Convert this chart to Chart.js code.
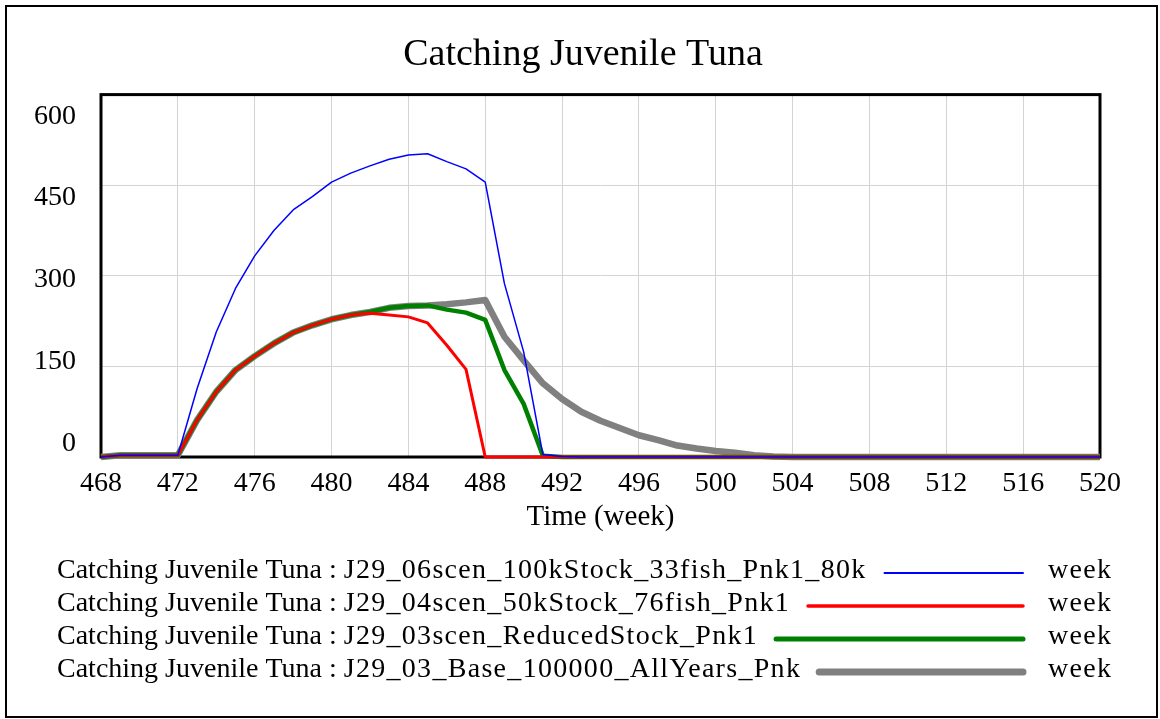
<!DOCTYPE html>
<html>
<head>
<meta charset="utf-8">
<title>Catching Juvenile Tuna</title>
<script src="https://cdn.jsdelivr.net/npm/chart.js@4.4.1/dist/chart.umd.min.js"></script>
<style>
    html, body { margin: 0; padding: 0; background: #ffffff; }
    #wrap { width: 1160px; height: 719px; }
</style>
</head>
<body>
<div id="wrap"><canvas id="tuna" width="1160" height="719"></canvas></div>
<script>
// weeks on the time axis
const weeks = [
    468, 469, 470, 471, 472, 473, 474, 475, 476, 477, 478, 479, 480, 481, 482, 483, 484, 485,
    486, 487, 488, 489, 490, 491, 492, 493, 494, 495, 496, 497, 498, 499, 500, 501, 502, 503,
    504, 505, 506, 507, 508, 509, 510, 511, 512, 513, 514, 515, 516, 517, 518, 519, 520
];

const seriesNames = [
    'Catching Juvenile Tuna : J29_06scen_100kStock_33fish_Pnk1_80k',
    'Catching Juvenile Tuna : J29_04scen_50kStock_76fish_Pnk1',
    'Catching Juvenile Tuna : J29_03scen_ReducedStock_Pnk1',
    'Catching Juvenile Tuna : J29_03_Base_100000_AllYears_Pnk'
];

const unitLabel = 'week';

// values, one per week
const scen100k = [
    0, 3, 3, 3, 3, 113, 207, 279, 333, 375, 409, 431, 455, 470, 482, 493, 500, 502,
    489, 477, 455, 287, 174, 4, 1, 0, 0, 0, 0, 0, 0, 0, 0, 0, 0, 0,
    0, 0, 0, 0, 0, 0, 0, 0, 0, 0, 0, 0, 0, 0, 0, 0, 0
];

const scen50k = [
    0, 3, 3, 3, 3, 61, 108, 144, 167, 188, 206, 218, 228, 235, 238, 235, 232, 222,
    185, 145, 0, 0, 0, 0, 0, 0, 0, 0, 0, 0, 0, 0, 0, 0, 0, 0,
    0, 0, 0, 0, 0, 0, 0, 0, 0, 0, 0, 0, 0, 0, 0, 0, 0
];

const scenReduced = [
    0, 3, 3, 3, 3, 61, 108, 144, 167, 188, 206, 218, 228, 235, 240, 247, 250, 251,
    244, 239, 227, 144, 88, 2, 0, 0, 0, 0, 0, 0, 0, 0, 0, 0, 0, 0,
    0, 0, 0, 0, 0, 0, 0, 0, 0, 0, 0, 0, 0, 0, 0, 0, 0
];

const baseAllYears = [
    0, 3, 3, 3, 3, 61, 108, 144, 167, 188, 206, 218, 228, 235, 240, 247, 250, 251,
    253, 256, 260, 199, 160, 122, 96, 75, 60, 48, 36, 28, 19, 14, 10, 7, 3, 1,
    0, 0, 0, 0, 0, 0, 0, 0, 0, 0, 0, 0, 0, 0, 0, 0, 0
];

const yTicks = [0, 150, 300, 450, 600];

const FONT = "'Liberation Serif', 'Times New Roman', serif";

function toPoints(values) {
    return weeks.map((w, i) => ({ x: w, y: values[i] }));
}

// white page, outer border and the black frame round the plot
const framePlugin = {
    id: 'frame',
    beforeDraw(chart) {
        const ctx = chart.ctx;
        ctx.save();
        ctx.fillStyle = '#ffffff';
        ctx.fillRect(0, 0, chart.width, chart.height);
        ctx.restore();
    },
    beforeDatasetsDraw(chart) {
        const { ctx, chartArea } = chart;
        ctx.save();
        ctx.strokeStyle = '#000000';
        ctx.lineWidth = 3;
        ctx.strokeRect(chartArea.left, chartArea.top,
            chartArea.right - chartArea.left, chartArea.bottom - chartArea.top);
        ctx.restore();
    },
    afterDraw(chart) {
        const ctx = chart.ctx;
        ctx.save();
        ctx.strokeStyle = '#000000';
        ctx.lineWidth = 2;
        ctx.strokeRect(6, 6, chart.width - 9, chart.height - 8);
        ctx.restore();
    }
};

// y labels sit a little inside the gridlines, the way the original tool draws them
const yLabelPlugin = {
    id: 'yLabels',
    afterDraw(chart) {
        const { ctx, chartArea } = chart;
        const scale = chart.scales.y;
        const span = chartArea.bottom - chartArea.top;
        ctx.save();
        ctx.font = '28px ' + FONT;
        ctx.fillStyle = '#000000';
        ctx.textAlign = 'right';
        ctx.textBaseline = 'alphabetic';
        scale.ticks.forEach(t => {
            const gy = scale.getPixelForValue(t.value);
            const y = chartArea.top + 29 + (gy - chartArea.top) * (span - 35) / span;
            ctx.fillText(String(t.value), chartArea.left - 25, y);
        });
        ctx.restore();
    }
};

// legend rows: name, line sample, unit
const legendPlugin = {
    id: 'rowLegend',
    afterDraw(chart) {
        const ctx = chart.ctx;
        const top = chart.chartArea.bottom + 121;
        ctx.save();
        ctx.font = '28px ' + FONT;
        ctx.textBaseline = 'alphabetic';
        ctx.textAlign = 'left';
        chart.data.datasets.forEach((ds, i) => {
            const y = top + i * 33;
            const cut = ds.label.indexOf(' : ') + 3;
            const head = ds.label.slice(0, cut);
            const tail = ds.label.slice(cut);
            ctx.fillStyle = '#000000';
            ctx.letterSpacing = '0px';
            ctx.fillText(head, 57, y);
            let x = 57 + ctx.measureText(head).width;
            ctx.letterSpacing = '1.3px';
            ctx.fillText(tail, x, y);
            x += ctx.measureText(tail).width;
            ctx.fillText(unitLabel, 1048, y);
            ctx.letterSpacing = '0px';
            ctx.strokeStyle = ds.borderColor;
            ctx.lineWidth = ds.legendWidth;
            ctx.lineCap = 'round';
            ctx.beginPath();
            ctx.moveTo(x + 18, y - 5);
            ctx.lineTo(1023, y - 5);
            ctx.stroke();
        });
        ctx.restore();
    }
};

class TunaCatchChart {
    constructor(ctx) {
        this.ctx = ctx;

        this.chart = new Chart(this.ctx, {
            type: 'line',
            data: {
                datasets: [
                    { label: seriesNames[0], data: toPoints(scen100k), borderColor: '#0000ff', borderWidth: 1.5, legendWidth: 2 },
                    { label: seriesNames[1], data: toPoints(scen50k), borderColor: '#ff0000', borderWidth: 3, legendWidth: 3.5 },
                    { label: seriesNames[2], data: toPoints(scenReduced), borderColor: '#008000', borderWidth: 4.5, legendWidth: 5 },
                    { label: seriesNames[3], data: toPoints(baseAllYears), borderColor: '#808080', borderWidth: 6.5, legendWidth: 7 }
                ].map(d => Object.assign(d, { pointRadius: 0, tension: 0, fill: false, clip: false, borderJoinStyle: 'round' }))
            },
            options: this.chartOptions,
            plugins: [framePlugin, yLabelPlugin, legendPlugin]
        });
    }

    chartOptions = {
        responsive: false,
        animation: false,
        events: [],
        layout: {
            padding: { left: 66, right: 60, top: 0, bottom: 182 }
        },
        plugins: {
            legend: { display: false },
            tooltip: { enabled: false },
            title: {
                display: true,
                text: 'Catching Juvenile Tuna',
                color: '#000000',
                font: { family: FONT, size: 38, weight: 'normal' },
                padding: { top: 32, bottom: 17 }
            }
        },
        scales: {
            x: {
                type: 'linear',
                min: weeks[0],
                max: weeks[weeks.length - 1],
                afterBuildTicks: scale => {
                    scale.ticks = weeks.filter(w => (w - weeks[0]) % 4 === 0).map(w => ({ value: w }));
                },
                afterFit: scale => { scale.height = 80; },
                grid: { color: '#d3d3d3', lineWidth: 1, drawTicks: false },
                border: { display: false },
                ticks: {
                    color: '#000000',
                    padding: 10,
                    maxRotation: 0,
                    autoSkip: false,
                    font: { family: FONT, size: 28 },
                    callback: v => String(v)
                },
                title: {
                    display: true,
                    text: 'Time (week)',
                    color: '#000000',
                    font: { family: FONT, size: 29 },
                    padding: { top: 0, bottom: 2 }
                }
            },
            y: {
                min: 0,
                max: 600,
                afterBuildTicks: scale => {
                    scale.ticks = yTicks.map(v => ({ value: v }));
                },
                afterFit: scale => { scale.width = 35; },
                grid: { color: '#d3d3d3', lineWidth: 1, drawTicks: false },
                border: { display: false },
                ticks: { display: false }
            }
        }
    };
}

new TunaCatchChart(document.getElementById('tuna').getContext('2d'));
</script>
</body>
</html>
